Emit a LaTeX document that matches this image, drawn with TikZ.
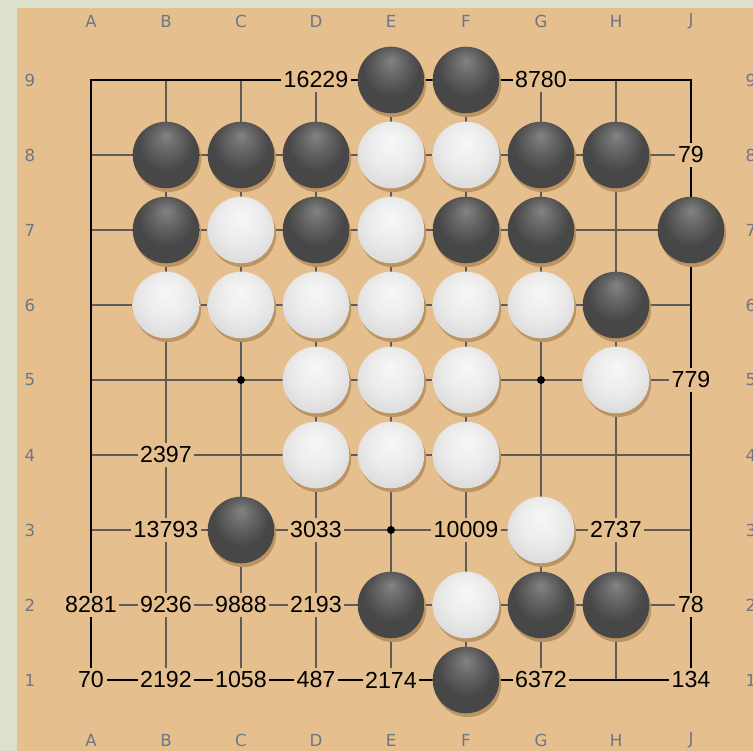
\documentclass[tikz,border=0pt]{standalone}
\usepackage{fontspec}
\setmainfont{DejaVu Sans}
\newfontfamily\numfont{Liberation Sans}
\definecolor{wood}{HTML}{E6BF8E}
\definecolor{matte}{HTML}{DDE1CC}
\definecolor{gridgray}{HTML}{5C5C5C}
\definecolor{coordgray}{HTML}{6E7585}
\definecolor{stoneshadow}{HTML}{BC9462}
\definecolor{bhi}{HTML}{838383}
\definecolor{bmid}{HTML}{646464}
\definecolor{bbody}{HTML}{474747}
\definecolor{whi}{HTML}{F7F7F7}
\definecolor{wmid}{HTML}{ECECEC}
\definecolor{wedge}{HTML}{D6D6D6}
\pgfdeclareradialshading{blackstone}{\pgfpoint{0bp}{15bp}}{color(0bp)=(bhi); color(10bp)=(bmid); color(21bp)=(bbody); color(50bp)=(bbody)}
\pgfdeclareradialshading{whitestone}{\pgfpoint{0bp}{10bp}}{color(0bp)=(whi); color(16bp)=(wmid); color(34bp)=(wedge); color(50bp)=(wedge)}
\begin{document}
\begin{tikzpicture}[
    gridline/.style={gridgray, line width=0.45pt},
    edgeline/.style={black, line width=0.8pt},
    count/.style={fill=wood, inner xsep=1pt, inner ysep=1.5pt, font=\numfont\fontsize{8.8}{10}\selectfont},
    coord/.style={coordgray, font=\fontsize{6.3}{8}\selectfont},
    stoneshade/.style={fill=stoneshadow},
]
    % 背景
    \fill[matte] (-1.2133, -0.9467) rectangle (8.8267, 9.0667);
    \useasboundingbox (-1.2133, -0.9467) rectangle (8.8267, 9.0667);
    \fill[wood] (-0.9867, -0.9467) rectangle (8.8267, 8.96);

    % 网格线
    \foreach \i in {1,...,7} {
        \draw[gridline] (\i, 0) -- (\i, 8);
        \draw[gridline] (0, \i) -- (8, \i);
    }
    \draw[edgeline] (0, 0) rectangle (8, 8);

    % 星位
    \foreach \x/\y in {2/4, 6/4, 4/2}
        \fill (\x, \y) circle (0.053);

    % 坐标
    \foreach \c [count=\i from 0] in {A,B,C,D,E,F,G,H,J} {
        \node[coord] (top\c) at (\i, 8.787) {\c};
        \node[coord] (bot\c) at (\i, -0.8) {\c};
    }
    \foreach \r in {1,...,9} {
        \node[coord] (left\r) at (-0.813, \r-1) {\r};
        \node[coord] (right\r) at (8.80, \r-1) {\r};
    }

    % 阴影
    \foreach \x/\y in {4/8, 5/8, 1/7, 2/7, 3/7, 6/7, 7/7, 1/6, 3/6, 5/6, 6/6, 8/6, 7/5, 2/2, 4/1, 6/1, 7/1, 5/0,
                       4/7, 5/7, 2/6, 4/6, 1/5, 2/5, 3/5, 4/5, 5/5, 6/5, 3/4, 4/4, 5/4, 7/4, 3/3, 4/3, 5/3, 6/2, 5/1}
        \fill[stoneshade] (\x+0.025, \y-0.05) circle (0.444);

    % 黑子
    \foreach \x/\y in {4/8, 5/8, 1/7, 2/7, 3/7, 6/7, 7/7, 1/6, 3/6, 5/6, 6/6, 8/6, 7/5, 2/2, 4/1, 6/1, 7/1, 5/0}
        \shade[shading=blackstone] (\x, \y) circle (0.444);

    % 白子
    \foreach \x/\y in {4/7, 5/7, 2/6, 4/6, 1/5, 2/5, 3/5, 4/5, 5/5, 6/5, 3/4, 4/4, 5/4, 7/4, 3/3, 4/3, 5/3, 6/2, 5/1}
        \shade[shading=whitestone] (\x, \y) circle (0.444);

    % 数字
    \foreach \x/\y/\v in {3/8/16229, 6/8/8780, 8/7/79, 8/4/779, 1/3/2397,
                          1/2/13793, 3/2/3033, 5/2/10009, 7/2/2737,
                          0/1/8281, 1/1/9236, 2/1/9888, 3/1/2193, 8/1/78,
                          0/0/70, 1/0/2192, 2/0/1058, 3/0/487, 4/0/2174, 6/0/6372, 8/0/134}
        \node[count] (cnt\v) at (\x, \y) {\v};
\end{tikzpicture}
\end{document}
